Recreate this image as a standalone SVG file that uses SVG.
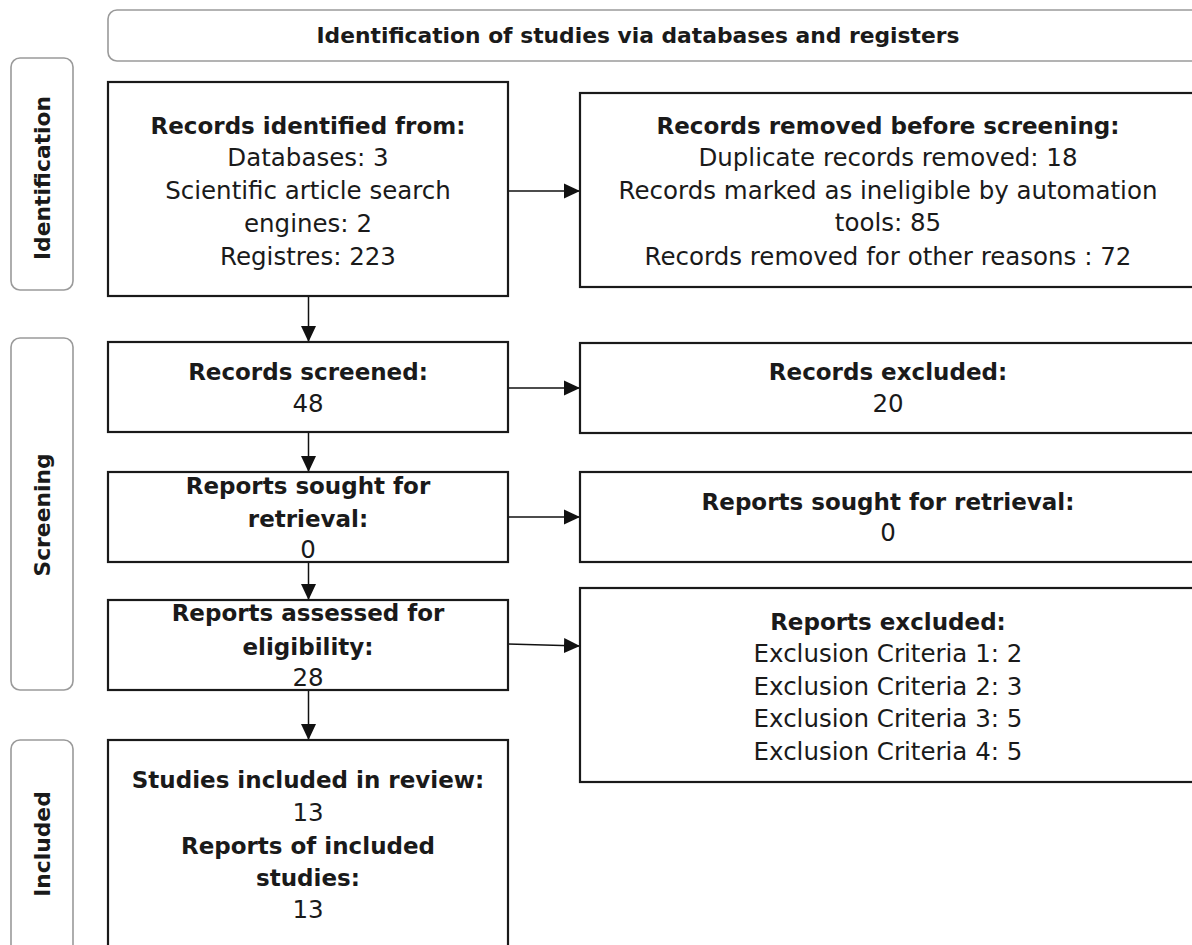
<svg xmlns="http://www.w3.org/2000/svg" width="1192" height="945" viewBox="0 0 1192 945">
<defs>
<marker id="ah" markerUnits="userSpaceOnUse" markerWidth="16" markerHeight="16" viewBox="0 0 16 16" refX="16" refY="8" orient="auto">
<path d="M0,0.5 L16,8 L0,15.5 Z" fill="#111"/>
</marker>
<style>
.box{fill:#fff;stroke:#1a1a1a;stroke-width:2.2}
.phase{fill:#fff;stroke:#9a9a9a;stroke-width:1.6}
.t{font-family:"DejaVu Sans",sans-serif;font-size:24.5px;fill:#1a1a1a;text-anchor:middle}
.b{font-weight:bold;font-size:23px}
.h{font-family:"DejaVu Sans",sans-serif;font-size:21.8px;font-weight:bold;fill:#1a1a1a;text-anchor:middle}
.c{stroke:#111;stroke-width:1.5;fill:none;marker-end:url(#ah)}
</style>
</defs>
<rect width="1192" height="945" fill="#fff"/>
<g id="header">
<rect class="phase" x="108" y="10" width="1100" height="51" rx="9"/>
<text class="h" x="638" y="43">Identification of studies via databases and registers</text>
</g>
<g id="phase-identification">
<rect class="phase" x="11" y="58" width="62" height="232" rx="9"/>
<text class="h" transform="translate(50,178) rotate(-90)">Identification</text>
</g>
<g id="phase-screening">
<rect class="phase" x="11" y="338" width="62" height="352" rx="9"/>
<text class="h" transform="translate(50,515) rotate(-90)">Screening</text>
</g>
<g id="phase-included">
<rect class="phase" x="11" y="740" width="62" height="215" rx="9"/>
<text class="h" transform="translate(50,844) rotate(-90)">Included</text>
</g>
<g id="connectors">
<line class="c" x1="308.5" y1="296" x2="308.5" y2="342"/>
<line class="c" x1="308.5" y1="432" x2="308.5" y2="472"/>
<line class="c" x1="308.5" y1="562" x2="308.5" y2="600"/>
<line class="c" x1="308.5" y1="690" x2="308.5" y2="740"/>
<line class="c" x1="508" y1="191" x2="580" y2="191"/>
<line class="c" x1="508" y1="388" x2="580" y2="388"/>
<line class="c" x1="508" y1="517" x2="580" y2="517"/>
<line class="c" x1="508" y1="644" x2="580" y2="646"/>
</g>
<g id="records-identified">
<rect class="box" x="108" y="82" width="400" height="214"/>
<text class="t b" x="308" y="134">Records identified from:</text>
<text class="t" x="308" y="166">Databases: 3</text>
<text class="t" x="308" y="199">Scientific article search</text>
<text class="t" x="308" y="232">engines: 2</text>
<text class="t" x="308" y="265">Registres: 223</text>
</g>
<g id="records-removed">
<rect class="box" x="580" y="93" width="630" height="194"/>
<text class="t b" x="888" y="134">Records removed before screening:</text>
<text class="t" x="888" y="166">Duplicate records removed: 18</text>
<text class="t" x="888" y="199">Records marked as ineligible by automation</text>
<text class="t" x="888" y="231">tools: 85</text>
<text class="t" x="888" y="265">Records removed for other reasons : 72</text>
</g>
<g id="records-screened">
<rect class="box" x="108" y="342" width="400" height="90"/>
<text class="t b" x="308" y="380">Records screened:</text>
<text class="t" x="308" y="412">48</text>
</g>
<g id="records-excluded">
<rect class="box" x="580" y="343" width="630" height="90"/>
<text class="t b" x="888" y="380">Records excluded:</text>
<text class="t" x="888" y="412">20</text>
</g>
<g id="reports-sought">
<rect class="box" x="108" y="472" width="400" height="90"/>
<text class="t b" x="308" y="494">Reports sought for</text>
<text class="t b" x="308" y="527">retrieval:</text>
<text class="t" x="308" y="558">0</text>
</g>
<g id="reports-not-retrieved">
<rect class="box" x="580" y="472" width="630" height="90"/>
<text class="t b" x="888" y="510">Reports sought for retrieval:</text>
<text class="t" x="888" y="541">0</text>
</g>
<g id="reports-assessed">
<rect class="box" x="108" y="600" width="400" height="90"/>
<text class="t b" x="308" y="621">Reports assessed for</text>
<text class="t b" x="308" y="655">eligibility:</text>
<text class="t" x="308" y="686">28</text>
</g>
<g id="reports-excluded">
<rect class="box" x="580" y="588" width="630" height="194"/>
<text class="t b" x="888" y="630">Reports excluded:</text>
<text class="t" x="888" y="662">Exclusion Criteria 1: 2</text>
<text class="t" x="888" y="695">Exclusion Criteria 2: 3</text>
<text class="t" x="888" y="727">Exclusion Criteria 3: 5</text>
<text class="t" x="888" y="760">Exclusion Criteria 4: 5</text>
</g>
<g id="studies-included">
<rect class="box" x="108" y="740" width="400" height="220"/>
<text class="t b" x="308" y="788">Studies included in review:</text>
<text class="t" x="308" y="821">13</text>
<text class="t b" x="308" y="854">Reports of included</text>
<text class="t b" x="308" y="886">studies:</text>
<text class="t" x="308" y="918">13</text>
</g>
</svg>
